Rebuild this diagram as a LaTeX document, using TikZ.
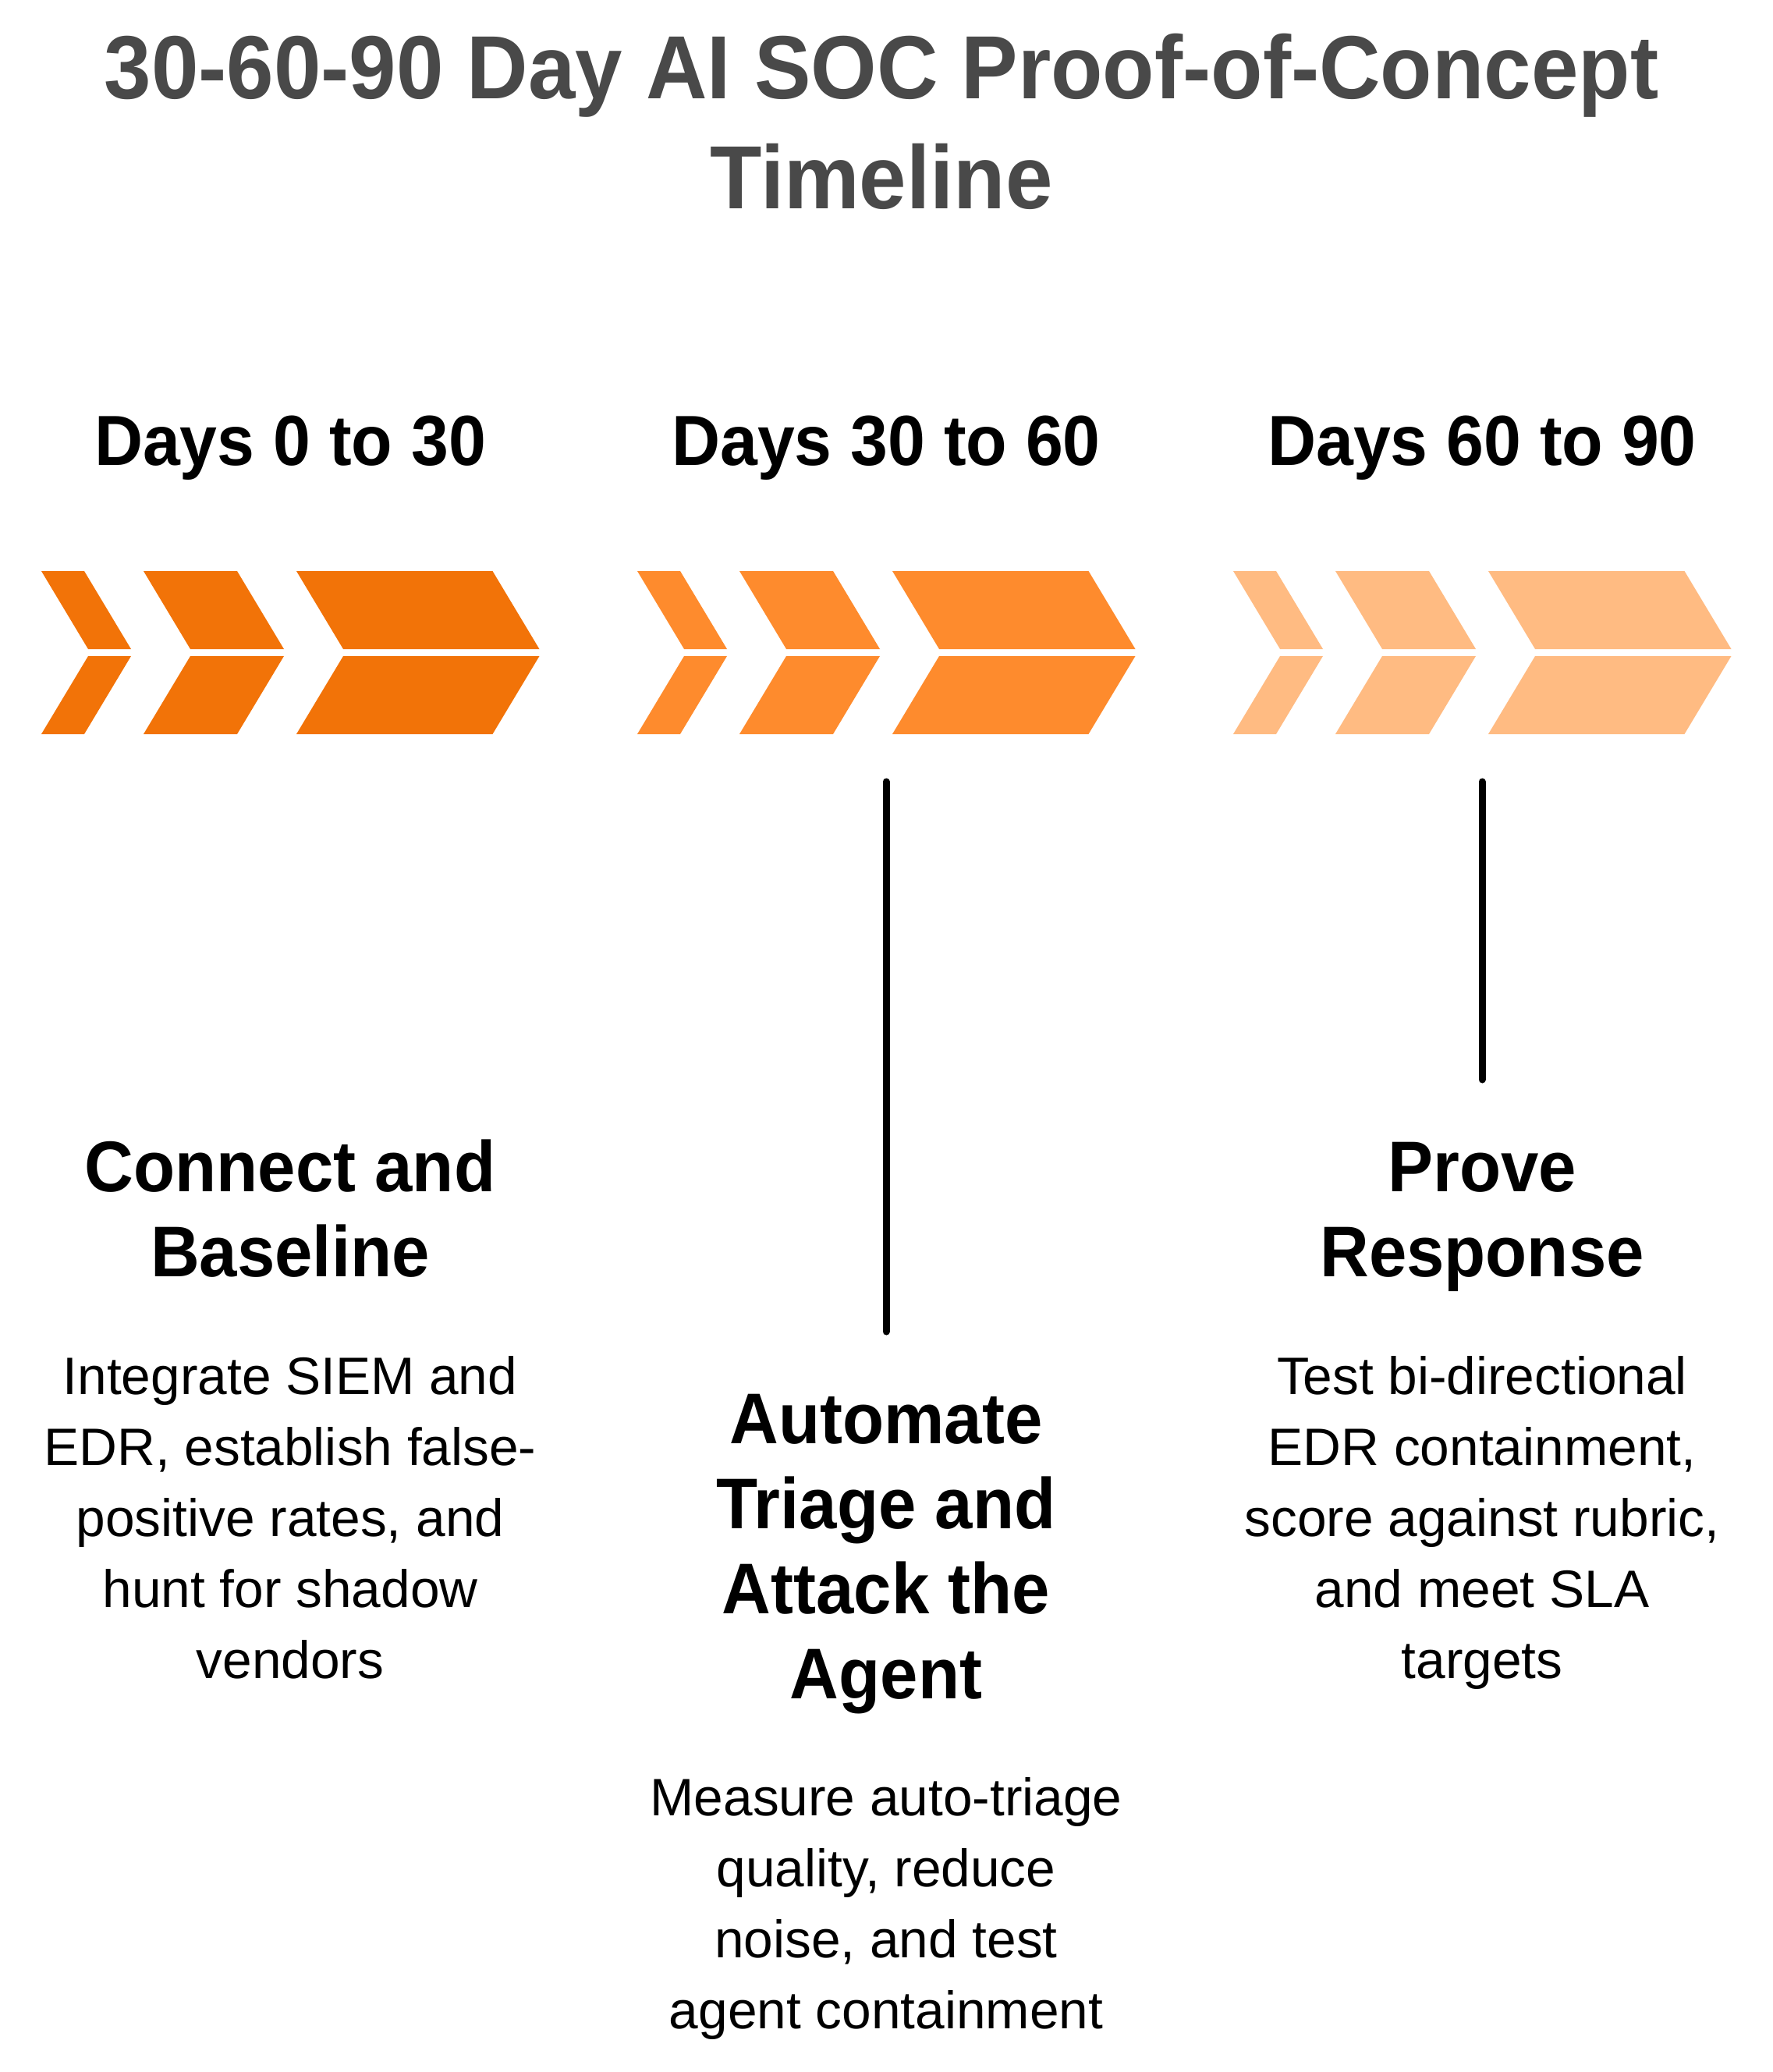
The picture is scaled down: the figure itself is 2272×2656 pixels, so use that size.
\documentclass[tikz,border=0pt]{standalone}
\usepackage{fontspec}
\setmainfont{Liberation Sans}[BoldFeatures={FakeStretch=0.945}]
\usepackage{tikz}
\usetikzlibrary{positioning}

\definecolor{phaseA}{HTML}{F27308}
\definecolor{phaseB}{HTML}{FE8B2D}
\definecolor{phaseC}{HTML}{FFBB82}
\definecolor{titlegray}{HTML}{494949}

\begin{document}
\begin{tikzpicture}[
		x=0.25pt, y=-0.25pt,
		title/.style={anchor=base, align=center, text=titlegray, font=\fontsize{28.75}{35.25}\selectfont\bfseries, inner sep=0pt},
		days/.style={anchor=base, font=\fontsize{22.75}{27}\selectfont\bfseries, inner sep=0pt},
		head/.style={anchor=base, align=center, font=\fontsize{23}{27.25}\selectfont\bfseries, inner sep=0pt},
		body/.style={anchor=base, align=center, font=\fontsize{16.9}{22.75}\selectfont, inner sep=0pt},
		tick/.style={line width=2.25pt, line cap=round}
	]
		\useasboundingbox (0,0) rectangle (2272,2656);

		% chevrons, one group per phase
		\foreach \gx/\col in {53/phaseA, 817/phaseB, 1581/phaseC} {
			\foreach \cx/\cw in {0/55, 131/120, 327/251.5} {
				\fill[\col] ({\gx+\cx},732) -- ++(\cw,0) -- ++(60,100) -- ++(-\cw,0) -- cycle;
				\fill[\col] ({\gx+\cx+60},841) -- ++(\cw,0) -- ++(-60,100) -- ++(-\cw,0) -- cycle;
			}
		}

		% multi-line nodes sit on the baseline of their last line
		\draw
			node[title] (title) at (1130,267) {30-60-90 Day AI SOC Proof-of-Concept\\Timeline}

			node[days] (d1) at (372,596)  {Days 0 to 30}
			node[days] (d2) at (1136,596) {Days 30 to 60}
			node[days] (d3) at (1900,596) {Days 60 to 90}

			node[head] (h1) at (372,1636)  {Connect and\\Baseline}
			node[head] (h2) at (1136,2177) {Automate\\Triage and\\Attack the\\Agent}
			node[head] (h3) at (1900,1636) {Prove\\Response}

			node[body] (t1) at (372,2151)  {Integrate SIEM and\\EDR, establish false-\\positive rates, and\\hunt for shadow\\vendors}
			node[body] (t2) at (1136,2600) {Measure auto-triage\\quality, reduce\\noise, and test\\agent containment}
			node[body] (t3) at (1900,2151) {Test bi-directional\\EDR containment,\\score against rubric,\\and meet SLA\\targets}
		;

		\coordinate (l2a) at (1136,1002);
		\coordinate (l2b) at (1136,1707);
		\coordinate (l3a) at (1900,1002);
		\coordinate (l3b) at (1900,1384);
		\draw[tick] (l2a) -- (l2b);
		\draw[tick] (l3a) -- (l3b);
	\end{tikzpicture}
\end{document}
